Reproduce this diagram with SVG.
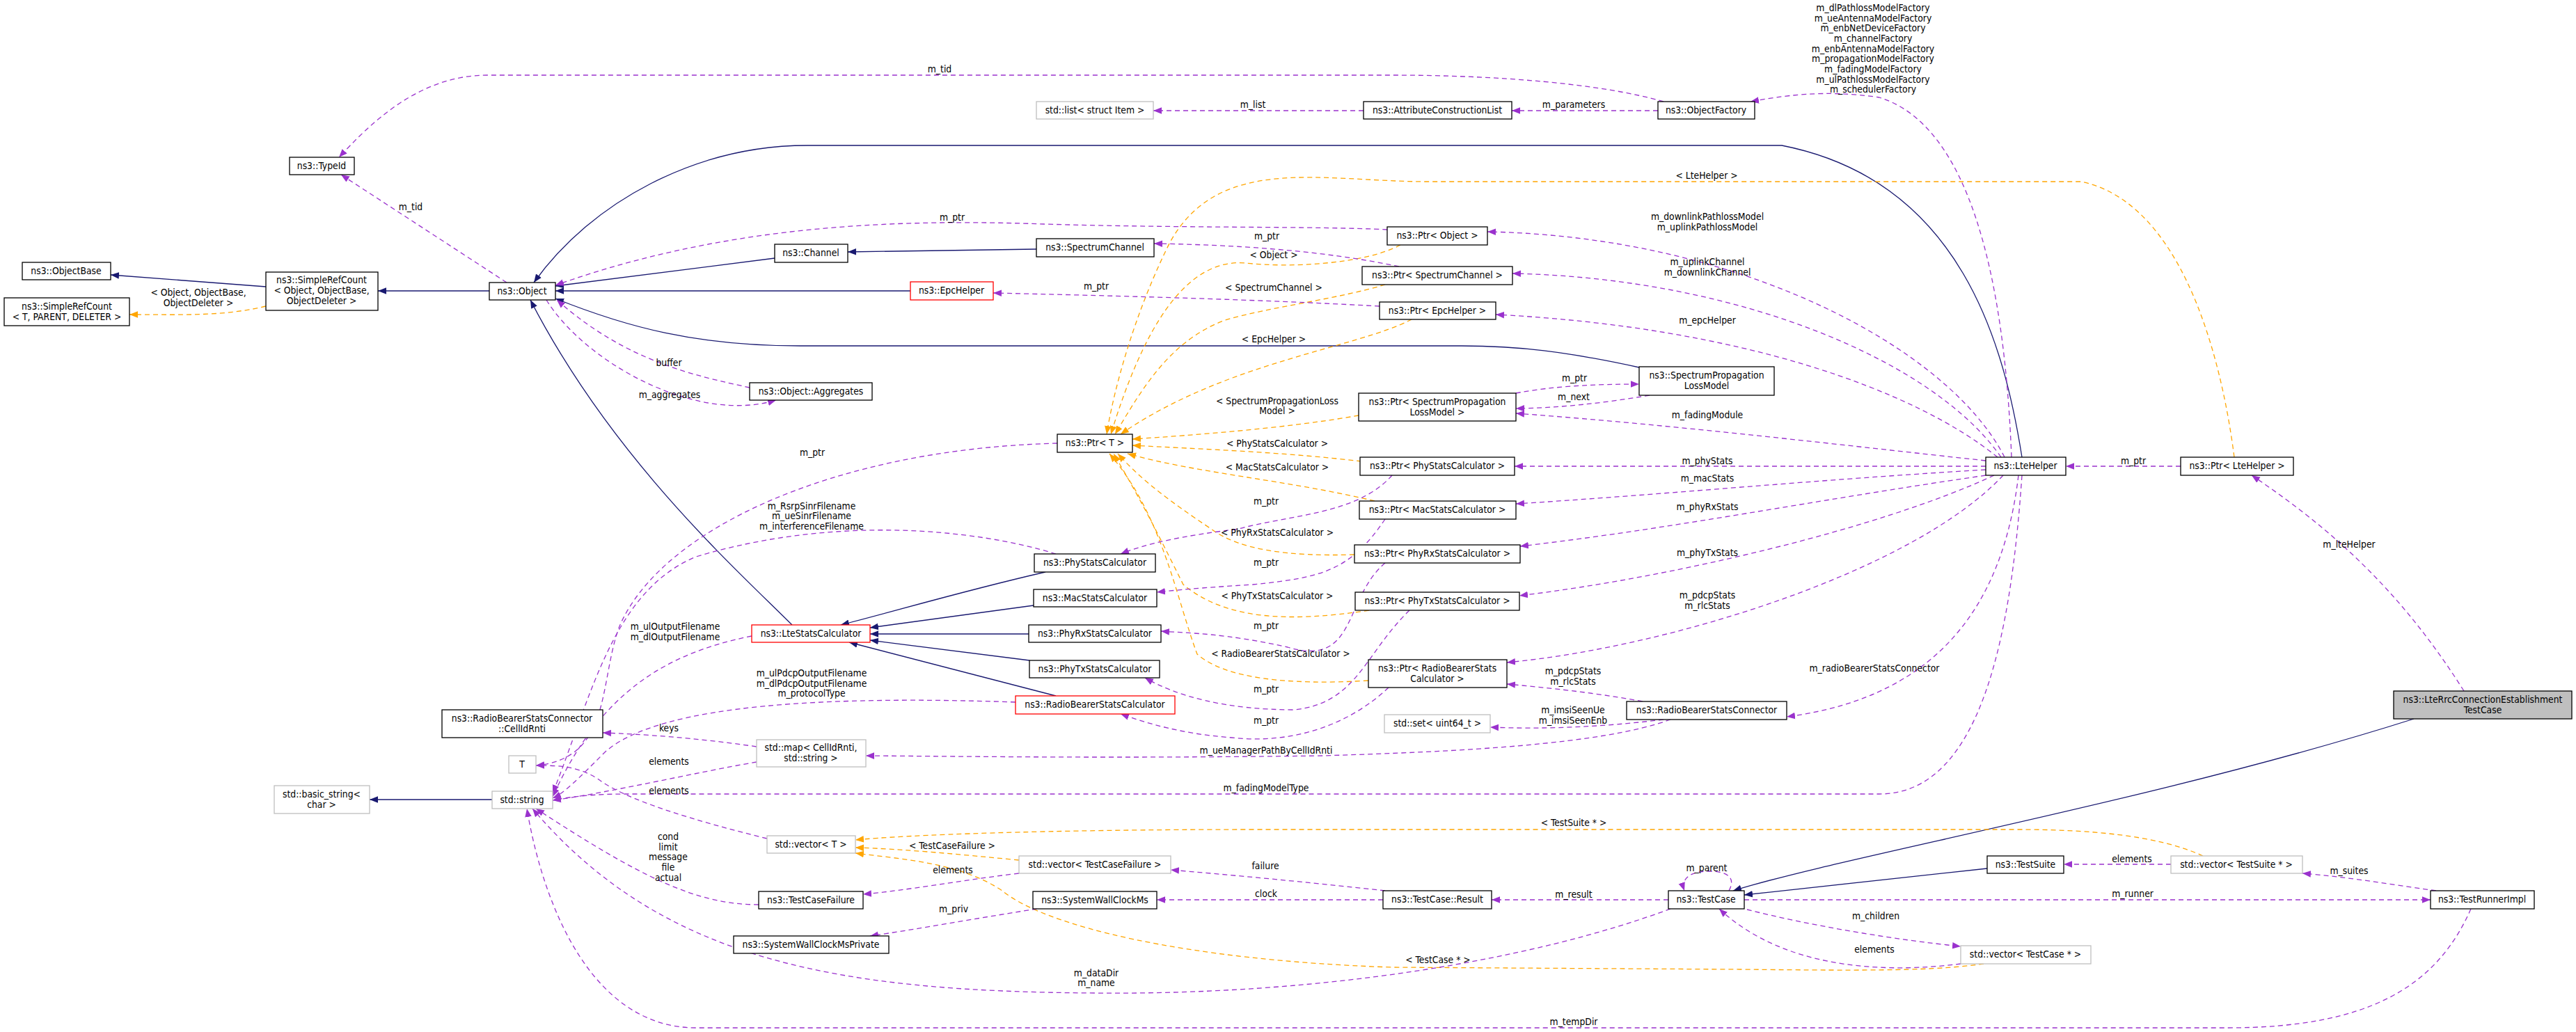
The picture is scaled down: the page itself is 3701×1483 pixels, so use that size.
<svg xmlns="http://www.w3.org/2000/svg" width="3701" height="1483" viewBox="0 0 3701 1483">
<style>
text{font-family:"DejaVu Sans Condensed","DejaVu Sans","Liberation Sans Narrow",sans-serif;font-stretch:condensed;font-size:13.8px;fill:#000;text-anchor:middle}
.n rect{fill:#fff;stroke:#000;stroke-width:1.3}
.g rect{fill:#fff;stroke:#bfbfbf;stroke-width:1.3}
.r rect{fill:#fff;stroke:#ff0000;stroke-width:1.3}
.h rect{fill:#bfbfbf;stroke:#000;stroke-width:1.3}
.i{fill:none;stroke:#191970;stroke-width:1.3;marker-end:url(#ai)}
.u{fill:none;stroke:#9a32cd;stroke-width:1.3;stroke-dasharray:7,5;marker-end:url(#au)}
.t{fill:none;stroke:#ffa500;stroke-width:1.3;stroke-dasharray:7,5;marker-end:url(#at)}
</style>
<defs>
<marker id="ai" viewBox="0 0 10 10" refX="10" refY="5" markerWidth="12" markerHeight="12" markerUnits="userSpaceOnUse" orient="auto"><path d="M0,1 L10,5 L0,9 z" fill="#191970"/></marker>
<marker id="au" viewBox="0 0 10 10" refX="10" refY="5" markerWidth="12" markerHeight="12" markerUnits="userSpaceOnUse" orient="auto"><path d="M0,1 L10,5 L0,9 z" fill="#9a32cd"/></marker>
<marker id="at" viewBox="0 0 10 10" refX="10" refY="5" markerWidth="12" markerHeight="12" markerUnits="userSpaceOnUse" orient="auto"><path d="M0,1 L10,5 L0,9 z" fill="#ffa500"/></marker>
</defs>
<rect width="3701" height="1483" fill="#fff"/>
<g id="edges">
<path class="i" d="M382,412 L159,395"/>
<path class="i" d="M703,418 L543,418"/>
<path class="i" d="M1113,371 L798,411"/>
<path class="i" d="M1489,358 L1218,362"/>
<path class="i" d="M1308,418 L798,418"/>
<path class="i" d="M2905,657 C2880,500 2820,260 2560,209 L1160,209 C1000,209 850,290 767,406"/>
<path class="i" d="M2355,528 C2250,505 2180,497 2100,497 L1150,497 C1000,497 900,470 798,429"/>
<path class="i" d="M1138,898 C1060,820 880,660 762,431"/>
<path class="i" d="M1502,822 C1380,850 1280,880 1208,898"/>
<path class="i" d="M1485,870 L1250,902"/>
<path class="i" d="M1478,911 L1250,911"/>
<path class="i" d="M1479,949 L1250,920"/>
<path class="i" d="M1517,1000 L1220,923"/>
<path class="i" d="M3468,1033 C3100,1150 2650,1230 2490,1280"/>
<path class="i" d="M2855,1248 L2506,1286"/>
<path class="i" d="M707,1149 L531,1149"/>
<path class="t" d="M382,440 C320,455 260,452 186,452"/>
<path class="t" d="M3210,657 C3190,500 3130,290 2990,261 L2050,261 C1900,261 1750,220 1680,350 C1630,450 1600,560 1590,624"/>
<path class="t" d="M2012,352 C1960,380 1850,385 1790,378 C1700,370 1640,480 1596,624"/>
<path class="t" d="M1990,409 C1920,430 1830,440 1760,460 C1680,490 1640,560 1602,624"/>
<path class="t" d="M2028,459 C1950,500 1760,520 1610,624"/>
<path class="t" d="M1952,597 C1850,615 1720,625 1627,631"/>
<path class="t" d="M1956,663 C1850,650 1720,645 1627,640"/>
<path class="t" d="M1975,720 C1850,690 1720,680 1620,652"/>
<path class="t" d="M1946,797 C1850,800 1780,790 1740,760 C1680,720 1640,690 1606,652"/>
<path class="t" d="M1967,877 C1850,895 1760,890 1700,840 C1660,760 1640,720 1600,652"/>
<path class="t" d="M1966,978 C1850,985 1760,975 1720,940 C1690,860 1670,740 1594,652"/>
<path class="t" d="M1464,1236 C1380,1228 1300,1220 1229,1218"/>
<path class="t" d="M3165,1230 C3100,1200 3000,1192 2900,1192 L1800,1192 C1500,1192 1300,1200 1229,1207"/>
<path class="t" d="M2850,1385 C2780,1395 2700,1395 2500,1393 L2000,1390 C1700,1380 1500,1330 1440,1280 C1380,1240 1300,1235 1229,1226"/>
<path class="u" d="M2390,146 C2300,120 2150,108 2000,108 L700,108 C600,108 530,180 487,226"/>
<path class="u" d="M728,406 L490,251"/>
<path class="u" d="M1959,159 L1657,159"/>
<path class="u" d="M2382,159 L2172,159"/>
<path class="u" d="M2890,657 C2880,400 2830,180 2700,140 C2620,128 2560,138 2515,146"/>
<path class="u" d="M1993,330 C1900,325 1700,328 1500,322 C1300,315 1050,320 798,410"/>
<path class="u" d="M2010,383 C1900,360 1780,352 1658,350"/>
<path class="u" d="M1982,440 C1800,430 1600,425 1427,421"/>
<path class="u" d="M2880,657 C2800,500 2500,340 2137,333"/>
<path class="u" d="M2875,657 C2780,520 2500,400 2173,393"/>
<path class="u" d="M2870,657 C2750,560 2500,470 2149,452"/>
<path class="u" d="M2178,565 C2230,555 2290,552 2355,552"/>
<path class="u" d="M2370,568 C2300,580 2240,586 2178,587"/>
<path class="u" d="M2853,662 C2650,640 2400,610 2178,594"/>
<path class="u" d="M1077,557 C1000,540 900,520 800,431"/>
<path class="u" d="M785,431 C840,520 1000,610 1115,575"/>
<path class="u" d="M1519,637 C1200,645 950,760 890,900 C860,980 880,1090 770,1100"/>
<path class="u" d="M1517,796 C1400,760 1200,740 1000,800 C880,850 850,1000 794,1140"/>
<path class="u" d="M1080,914 C950,940 860,1000 794,1145"/>
<path class="u" d="M1459,1009 C1200,1000 950,1010 870,1080 C830,1120 810,1140 794,1147"/>
<path class="u" d="M1087,1073 C1000,1060 920,1055 866,1053"/>
<path class="u" d="M1087,1095 C1000,1110 870,1140 794,1150"/>
<path class="u" d="M1102,1205 C1000,1180 900,1150 860,1120 C830,1100 800,1100 770,1100"/>
<path class="u" d="M1090,1300 C1000,1300 920,1260 770,1162"/>
<path class="u" d="M1464,1255 C1380,1265 1300,1280 1240,1285"/>
<path class="u" d="M1990,1280 C1900,1270 1800,1260 1682,1250"/>
<path class="u" d="M1987,1293 L1662,1293"/>
<path class="u" d="M1490,1306 C1400,1320 1320,1335 1250,1345"/>
<path class="u" d="M2397,1293 L2143,1293"/>
<path class="u" d="M2484,1280 C2495,1260 2480,1252 2455,1252 C2425,1252 2415,1265 2420,1280"/>
<path class="u" d="M2400,1306 C2200,1380 1900,1430 1575,1427 C1200,1425 950,1380 765,1162"/>
<path class="u" d="M3550,1306 C3500,1420 3400,1477 3200,1477 L1000,1477 C850,1477 780,1300 757,1162"/>
<path class="u" d="M2506,1293 L3492,1293"/>
<path class="u" d="M3500,1280 C3430,1270 3370,1260 3308,1255"/>
<path class="u" d="M3119,1242 L2965,1242"/>
<path class="u" d="M2510,1307 C2600,1330 2720,1350 2817,1360"/>
<path class="u" d="M2817,1385 C2700,1400 2560,1390 2470,1306"/>
<path class="u" d="M2900,683 C2880,850 2800,1000 2567,1030"/>
<path class="u" d="M2390,1034 C2300,1045 2220,1048 2141,1045"/>
<path class="u" d="M2360,1008 C2290,995 2220,988 2165,983"/>
<path class="u" d="M2400,1034 C2300,1070 2100,1080 1900,1086 C1600,1090 1400,1087 1244,1086"/>
<path class="u" d="M2853,670 L2176,670"/>
<path class="u" d="M2853,675 C2600,690 2400,710 2178,724"/>
<path class="u" d="M2853,683 C2600,720 2400,760 2184,785"/>
<path class="u" d="M2865,683 C2700,760 2400,830 2183,856"/>
<path class="u" d="M2878,683 C2750,820 2400,930 2165,952"/>
<path class="u" d="M2905,683 C2890,900 2850,1141 2700,1141 L900,1141 C850,1141 820,1145 794,1150"/>
<path class="u" d="M2000,683 C1950,740 1850,740 1780,760 C1700,770 1650,780 1610,796"/>
<path class="u" d="M1990,746 C1940,820 1900,830 1800,840 C1720,845 1690,848 1662,851"/>
<path class="u" d="M1990,809 C1930,860 1950,960 1850,930 C1760,910 1710,910 1668,907"/>
<path class="u" d="M2025,877 C1960,940 1950,1010 1860,1020 C1760,1020 1690,1000 1645,974"/>
<path class="u" d="M1995,988 C1940,1040 1860,1070 1770,1060 C1700,1055 1650,1040 1610,1026"/>
<path class="u" d="M3133,670 L2968,670"/>
<path class="u" d="M3540,993 C3450,850 3350,760 3235,683"/>
</g>
<g id="labels">
<text x="590" y="302">m_tid</text>
<text x="1350" y="104">m_tid</text>
<text x="1800" y="155">m_list</text>
<text x="2261" y="155">m_parameters</text>
<text x="2691" y="16">m_dlPathlossModelFactory</text>
<text x="2691" y="31">m_ueAntennaModelFactory</text>
<text x="2691" y="45">m_enbNetDeviceFactory</text>
<text x="2691" y="60">m_channelFactory</text>
<text x="2691" y="75">m_enbAntennaModelFactory</text>
<text x="2691" y="89">m_propagationModelFactory</text>
<text x="2691" y="104">m_fadingModelFactory</text>
<text x="2691" y="119">m_ulPathlossModelFactory</text>
<text x="2691" y="133">m_schedulerFactory</text>
<text x="2452" y="257">&lt; LteHelper &gt;</text>
<text x="1368" y="317">m_ptr</text>
<text x="1820" y="344">m_ptr</text>
<text x="1575" y="416">m_ptr</text>
<text x="1830" y="371">&lt; Object &gt;</text>
<text x="1830" y="418">&lt; SpectrumChannel &gt;</text>
<text x="1830" y="492">&lt; EpcHelper &gt;</text>
<text x="2453" y="316">m_downlinkPathlossModel</text>
<text x="2453" y="331">m_uplinkPathlossModel</text>
<text x="2453" y="381">m_uplinkChannel</text>
<text x="2453" y="396">m_downlinkChannel</text>
<text x="2453" y="465">m_epcHelper</text>
<text x="285" y="425">&lt; Object, ObjectBase,</text>
<text x="285" y="440">ObjectDeleter &gt;</text>
<text x="961" y="526">buffer</text>
<text x="962" y="572">m_aggregates</text>
<text x="1167" y="655">m_ptr</text>
<text x="2262" y="548">m_ptr</text>
<text x="2261" y="575">m_next</text>
<text x="2453" y="601">m_fadingModule</text>
<text x="1835" y="581">&lt; SpectrumPropagationLoss</text>
<text x="1835" y="595">Model &gt;</text>
<text x="1835" y="642">&lt; PhyStatsCalculator &gt;</text>
<text x="1835" y="676">&lt; MacStatsCalculator &gt;</text>
<text x="1819" y="725">m_ptr</text>
<text x="1835" y="770">&lt; PhyRxStatsCalculator &gt;</text>
<text x="1819" y="813">m_ptr</text>
<text x="1835" y="861">&lt; PhyTxStatsCalculator &gt;</text>
<text x="1819" y="904">m_ptr</text>
<text x="1840" y="944">&lt; RadioBearerStatsCalculator &gt;</text>
<text x="1819" y="995">m_ptr</text>
<text x="1819" y="1040">m_ptr</text>
<text x="2453" y="667">m_phyStats</text>
<text x="2453" y="692">m_macStats</text>
<text x="2453" y="733">m_phyRxStats</text>
<text x="2453" y="799">m_phyTxStats</text>
<text x="2453" y="860">m_pdcpStats</text>
<text x="2453" y="875">m_rlcStats</text>
<text x="2260" y="969">m_pdcpStats</text>
<text x="2260" y="984">m_rlcStats</text>
<text x="2693" y="965">m_radioBearerStatsConnector</text>
<text x="3065" y="667">m_ptr</text>
<text x="3375" y="787">m_lteHelper</text>
<text x="1166" y="732">m_RsrpSinrFilename</text>
<text x="1166" y="746">m_ueSinrFilename</text>
<text x="1166" y="761">m_interferenceFilename</text>
<text x="970" y="905">m_ulOutputFilename</text>
<text x="970" y="920">m_dlOutputFilename</text>
<text x="1166" y="972">m_ulPdcpOutputFilename</text>
<text x="1166" y="987">m_dlPdcpOutputFilename</text>
<text x="1166" y="1001">m_protocolType</text>
<text x="961" y="1051">keys</text>
<text x="961" y="1099">elements</text>
<text x="961" y="1141">elements</text>
<text x="1819" y="1083">m_ueManagerPathByCellIdRnti</text>
<text x="1819" y="1137">m_fadingModelType</text>
<text x="2260" y="1025">m_imsiSeenUe</text>
<text x="2260" y="1040">m_imsiSeenEnb</text>
<text x="960" y="1207">cond</text>
<text x="960" y="1222">limit</text>
<text x="960" y="1236">message</text>
<text x="960" y="1251">file</text>
<text x="960" y="1266">actual</text>
<text x="1368" y="1220">&lt; TestCaseFailure &gt;</text>
<text x="1369" y="1255">elements</text>
<text x="1818" y="1249">failure</text>
<text x="1819" y="1289">clock</text>
<text x="1370" y="1311">m_priv</text>
<text x="1575" y="1403">m_dataDir</text>
<text x="1575" y="1417">m_name</text>
<text x="2261" y="1187">&lt; TestSuite * &gt;</text>
<text x="2261" y="1290">m_result</text>
<text x="2452" y="1252">m_parent</text>
<text x="2695" y="1321">m_children</text>
<text x="2693" y="1369">elements</text>
<text x="2066" y="1384">&lt; TestCase * &gt;</text>
<text x="2261" y="1473">m_tempDir</text>
<text x="3063" y="1239">elements</text>
<text x="3375" y="1256">m_suites</text>
<text x="3064" y="1289">m_runner</text>
</g>
<g id="TypeId" class="n"><rect x="416" y="226" width="93" height="25"/><text x="462" y="243">ns3::TypeId</text></g>
<g id="ObjectBase" class="n"><rect x="32" y="377" width="127" height="25"/><text x="95" y="394">ns3::ObjectBase</text></g>
<g id="SimpleRefCountT" class="n"><rect x="6" y="428" width="180" height="40"/><text x="96" y="445">ns3::SimpleRefCount</text><text x="96" y="460">&lt; T, PARENT, DELETER &gt;</text></g>
<g id="SimpleRefCountObject" class="n"><rect x="382" y="391" width="161" height="55"/><text x="462" y="407">ns3::SimpleRefCount</text><text x="462" y="422">&lt; Object, ObjectBase,</text><text x="462" y="437">ObjectDeleter &gt;</text></g>
<g id="Object" class="n"><rect x="703" y="406" width="95" height="25"/><text x="750" y="423">ns3::Object</text></g>
<g id="StdList" class="g"><rect x="1489" y="146" width="168" height="25"/><text x="1573" y="163">std::list&lt; struct Item &gt;</text></g>
<g id="AttributeConstructionList" class="n"><rect x="1959" y="146" width="213" height="25"/><text x="2065" y="163">ns3::AttributeConstructionList</text></g>
<g id="ObjectFactory" class="n"><rect x="2382" y="146" width="139" height="25"/><text x="2451" y="163">ns3::ObjectFactory</text></g>
<g id="Channel" class="n"><rect x="1113" y="351" width="105" height="26"/><text x="1165" y="368">ns3::Channel</text></g>
<g id="SpectrumChannel" class="n"><rect x="1489" y="343" width="169" height="26"/><text x="1573" y="360">ns3::SpectrumChannel</text></g>
<g id="EpcHelper" class="r"><rect x="1308" y="405" width="119" height="26"/><text x="1367" y="422">ns3::EpcHelper</text></g>
<g id="PtrObject" class="n"><rect x="1993" y="326" width="144" height="26"/><text x="2065" y="343">ns3::Ptr&lt; Object &gt;</text></g>
<g id="PtrSpectrumChannel" class="n"><rect x="1957" y="383" width="216" height="26"/><text x="2065" y="400">ns3::Ptr&lt; SpectrumChannel &gt;</text></g>
<g id="PtrEpcHelper" class="n"><rect x="1982" y="434" width="167" height="25"/><text x="2065" y="451">ns3::Ptr&lt; EpcHelper &gt;</text></g>
<g id="SpectrumPropagationLossModel" class="n"><rect x="2355" y="527" width="194" height="41"/><text x="2452" y="544">ns3::SpectrumPropagation</text><text x="2452" y="559">LossModel</text></g>
<g id="PtrSPLM" class="n"><rect x="1952" y="565" width="226" height="40"/><text x="2065" y="582">ns3::Ptr&lt; SpectrumPropagation</text><text x="2065" y="597">LossModel &gt;</text></g>
<g id="Aggregates" class="n"><rect x="1077" y="550" width="176" height="25"/><text x="1165" y="567">ns3::Object::Aggregates</text></g>
<g id="PtrT" class="n"><rect x="1519" y="624" width="108" height="26"/><text x="1573" y="641">ns3::Ptr&lt; T &gt;</text></g>
<g id="PtrPhyStats" class="n"><rect x="1954" y="657" width="222" height="26"/><text x="2065" y="674">ns3::Ptr&lt; PhyStatsCalculator &gt;</text></g>
<g id="PtrMacStats" class="n"><rect x="1953" y="720" width="225" height="26"/><text x="2065" y="737">ns3::Ptr&lt; MacStatsCalculator &gt;</text></g>
<g id="PtrPhyRx" class="n"><rect x="1946" y="783" width="238" height="26"/><text x="2065" y="800">ns3::Ptr&lt; PhyRxStatsCalculator &gt;</text></g>
<g id="PtrPhyTx" class="n"><rect x="1947" y="851" width="236" height="26"/><text x="2065" y="868">ns3::Ptr&lt; PhyTxStatsCalculator &gt;</text></g>
<g id="PtrRBS" class="n"><rect x="1966" y="948" width="199" height="40"/><text x="2065" y="965">ns3::Ptr&lt; RadioBearerStats</text><text x="2065" y="980">Calculator &gt;</text></g>
<g id="LteHelper" class="n"><rect x="2853" y="657" width="115" height="26"/><text x="2910" y="674">ns3::LteHelper</text></g>
<g id="PtrLteHelper" class="n"><rect x="3133" y="657" width="162" height="26"/><text x="3214" y="674">ns3::Ptr&lt; LteHelper &gt;</text></g>
<g id="PhyStatsCalculator" class="n"><rect x="1486" y="796" width="174" height="26"/><text x="1573" y="813">ns3::PhyStatsCalculator</text></g>
<g id="MacStatsCalculator" class="n"><rect x="1485" y="847" width="177" height="25"/><text x="1573" y="864">ns3::MacStatsCalculator</text></g>
<g id="PhyRxStatsCalculator" class="n"><rect x="1478" y="898" width="190" height="25"/><text x="1573" y="915">ns3::PhyRxStatsCalculator</text></g>
<g id="PhyTxStatsCalculator" class="n"><rect x="1479" y="949" width="187" height="25"/><text x="1573" y="966">ns3::PhyTxStatsCalculator</text></g>
<g id="LteStatsCalculator" class="r"><rect x="1080" y="898" width="170" height="25"/><text x="1165" y="915">ns3::LteStatsCalculator</text></g>
<g id="RadioBearerStatsCalculator" class="r"><rect x="1459" y="1000" width="229" height="26"/><text x="1573" y="1017">ns3::RadioBearerStatsCalculator</text></g>
<g id="RadioBearerStatsConnector" class="n"><rect x="2337" y="1008" width="230" height="26"/><text x="2452" y="1025">ns3::RadioBearerStatsConnector</text></g>
<g id="StdSet" class="g"><rect x="1989" y="1027" width="152" height="26"/><text x="2065" y="1044">std::set&lt; uint64_t &gt;</text></g>
<g id="CellIdRnti" class="n"><rect x="635" y="1020" width="231" height="40"/><text x="750" y="1037">ns3::RadioBearerStatsConnector</text><text x="750" y="1052">::CellIdRnti</text></g>
<g id="T" class="g"><rect x="731" y="1086" width="39" height="25"/><text x="750" y="1103">T</text></g>
<g id="StdMap" class="g"><rect x="1087" y="1063" width="157" height="39"/><text x="1165" y="1079">std::map&lt; CellIdRnti,</text><text x="1165" y="1094">std::string &gt;</text></g>
<g id="BasicString" class="g"><rect x="394" y="1129" width="137" height="40"/><text x="462" y="1146">std::basic_string&lt;</text><text x="462" y="1161">char &gt;</text></g>
<g id="StdString" class="g"><rect x="707" y="1137" width="87" height="25"/><text x="750" y="1154">std::string</text></g>
<g id="VectorT" class="g"><rect x="1102" y="1201" width="127" height="25"/><text x="1165" y="1218">std::vector&lt; T &gt;</text></g>
<g id="VectorTestCaseFailure" class="g"><rect x="1464" y="1230" width="218" height="25"/><text x="1573" y="1247">std::vector&lt; TestCaseFailure &gt;</text></g>
<g id="TestCaseFailure" class="n"><rect x="1090" y="1281" width="150" height="25"/><text x="1165" y="1298">ns3::TestCaseFailure</text></g>
<g id="SystemWallClockMs" class="n"><rect x="1484" y="1281" width="178" height="25"/><text x="1573" y="1298">ns3::SystemWallClockMs</text></g>
<g id="SystemWallClockMsPrivate" class="n"><rect x="1054" y="1345" width="223" height="25"/><text x="1165" y="1362">ns3::SystemWallClockMsPrivate</text></g>
<g id="TestCaseResult" class="n"><rect x="1987" y="1280" width="156" height="26"/><text x="2065" y="1297">ns3::TestCase::Result</text></g>
<g id="TestCase" class="n"><rect x="2397" y="1280" width="109" height="26"/><text x="2451" y="1297">ns3::TestCase</text></g>
<g id="TestSuite" class="n"><rect x="2855" y="1230" width="110" height="25"/><text x="2910" y="1247">ns3::TestSuite</text></g>
<g id="VectorTestSuite" class="g"><rect x="3119" y="1230" width="189" height="25"/><text x="3213" y="1247">std::vector&lt; TestSuite * &gt;</text></g>
<g id="TestRunnerImpl" class="n"><rect x="3492" y="1280" width="149" height="26"/><text x="3566" y="1297">ns3::TestRunnerImpl</text></g>
<g id="VectorTestCase" class="g"><rect x="2817" y="1359" width="187" height="26"/><text x="2910" y="1376">std::vector&lt; TestCase * &gt;</text></g>
<g id="LteRrcConnectionEstablishmentTestCase" class="h"><rect x="3439" y="993" width="256" height="40"/><text x="3567" y="1010">ns3::LteRrcConnectionEstablishment</text><text x="3567" y="1025">TestCase</text></g>
</svg>
